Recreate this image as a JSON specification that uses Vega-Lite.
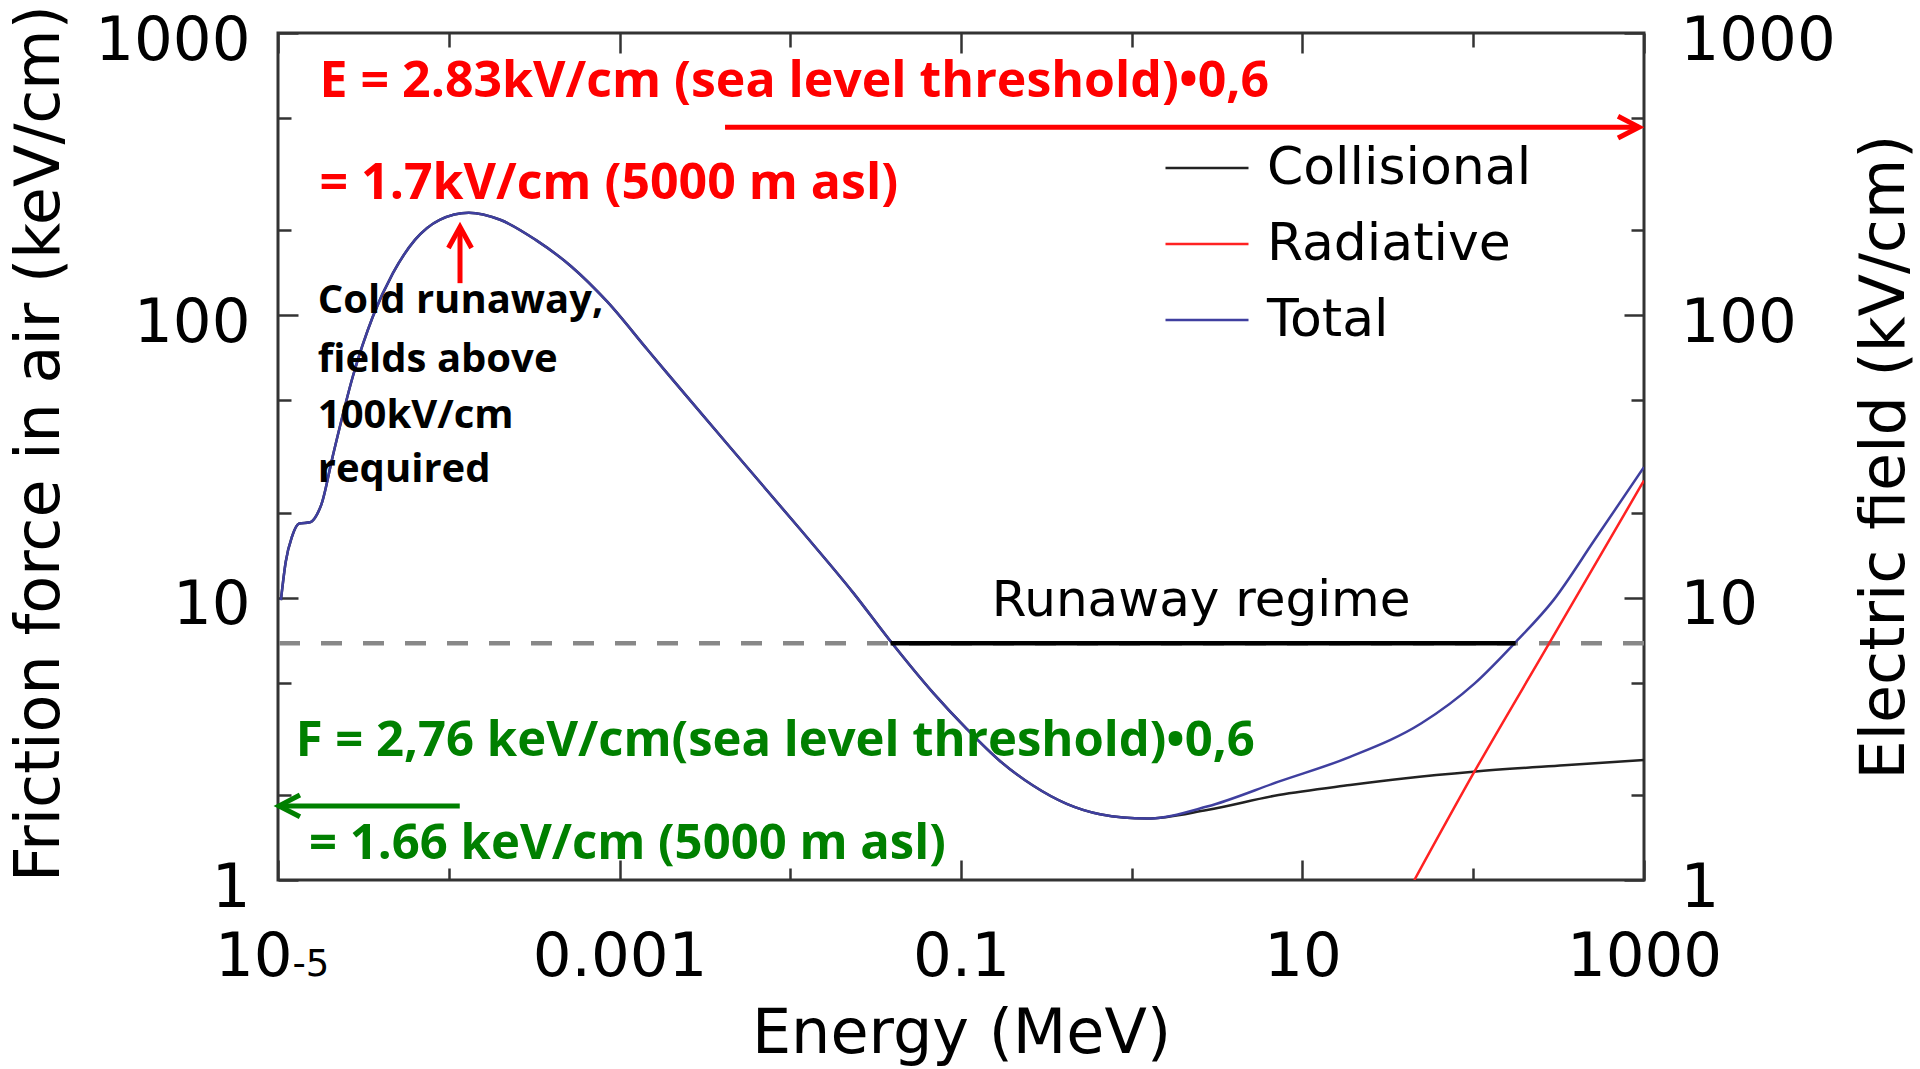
{
  "$schema": "https://vega.github.io/schema/vega-lite/v6.json",
  "width": 1366,
  "height": 847,
  "autosize": "none",
  "padding": {"left": 278, "top": 33, "right": 276, "bottom": 189},
  "background": "white",
  "config": {
    "view": {"stroke": "#333333", "strokeWidth": 3},
    "axis": {"grid": false, "labelColor": "#000000", "titleColor": "#000000", "tickColor": "#333333", "tickWidth": 2.5, "labelFlush": false, "labelOverlap": false, "labelBound": false, "labelFont": "DejaVu Sans", "titleFont": "DejaVu Sans", "titleFontWeight": "normal"},
    "legend": {"labelFont": "DejaVu Sans"}
  },
  "datasets": {
    "curves": [
      {"E": 1.04e-5, "F": 9.8, "series": "Collisional"},
      {"E": 1.11e-5, "F": 13.4, "series": "Collisional"},
      {"E": 1.21e-5, "F": 16.5, "series": "Collisional"},
      {"E": 1.33e-5, "F": 18.3, "series": "Collisional"},
      {"E": 1.54e-5, "F": 18.5, "series": "Collisional"},
      {"E": 1.69e-5, "F": 19.7, "series": "Collisional"},
      {"E": 1.80e-5, "F": 21.5, "series": "Collisional"},
      {"E": 2.09e-5, "F": 31.6, "series": "Collisional"},
      {"E": 2.74e-5, "F": 60.6, "series": "Collisional"},
      {"E": 3.59e-5, "F": 98.9, "series": "Collisional"},
      {"E": 4.71e-5, "F": 141, "series": "Collisional"},
      {"E": 6.34e-5, "F": 185, "series": "Collisional"},
      {"E": 8.85e-5, "F": 218, "series": "Collisional"},
      {"E": 1.31e-4, "F": 231, "series": "Collisional"},
      {"E": 2.0e-4, "F": 218, "series": "Collisional"},
      {"E": 3.23e-4, "F": 185, "series": "Collisional"},
      {"E": 5.22e-4, "F": 149, "series": "Collisional"},
      {"E": 8.45e-4, "F": 112, "series": "Collisional"},
      {"E": 1.46e-3, "F": 75.5, "series": "Collisional"},
      {"E": 1.89e-3, "F": 62.7, "series": "Collisional"},
      {"E": 2.5e-3, "F": 51.3, "series": "Collisional"},
      {"E": 4.65e-3, "F": 33.0, "series": "Collisional"},
      {"E": 0.0114, "F": 17.5, "series": "Collisional"},
      {"E": 0.0234, "F": 10.4, "series": "Collisional"},
      {"E": 0.0393, "F": 6.92, "series": "Collisional"},
      {"E": 0.0689, "F": 4.59, "series": "Collisional"},
      {"E": 0.108, "F": 3.43, "series": "Collisional"},
      {"E": 0.169, "F": 2.64, "series": "Collisional"},
      {"E": 0.264, "F": 2.16, "series": "Collisional"},
      {"E": 0.416, "F": 1.86, "series": "Collisional"},
      {"E": 0.652, "F": 1.71, "series": "Collisional"},
      {"E": 1.22, "F": 1.65, "series": "Collisional"},
      {"E": 2.76, "F": 1.77, "series": "Collisional"},
      {"E": 7.24, "F": 2.0, "series": "Collisional"},
      {"E": 19.0, "F": 2.17, "series": "Collisional"},
      {"E": 39.1, "F": 2.29, "series": "Collisional"},
      {"E": 100, "F": 2.42, "series": "Collisional"},
      {"E": 341, "F": 2.55, "series": "Collisional"},
      {"E": 1000, "F": 2.66, "series": "Collisional"},
      {"E": 45.2, "F": 1.0, "series": "Radiative"},
      {"E": 100, "F": 2.38, "series": "Radiative"},
      {"E": 275, "F": 6.8, "series": "Radiative"},
      {"E": 1000, "F": 26, "series": "Radiative"},
      {"E": 1.04e-5, "F": 9.8, "series": "Total"},
      {"E": 1.11e-5, "F": 13.4, "series": "Total"},
      {"E": 1.21e-5, "F": 16.5, "series": "Total"},
      {"E": 1.33e-5, "F": 18.3, "series": "Total"},
      {"E": 1.54e-5, "F": 18.5, "series": "Total"},
      {"E": 1.69e-5, "F": 19.7, "series": "Total"},
      {"E": 1.80e-5, "F": 21.5, "series": "Total"},
      {"E": 2.09e-5, "F": 31.6, "series": "Total"},
      {"E": 2.74e-5, "F": 60.6, "series": "Total"},
      {"E": 3.59e-5, "F": 98.9, "series": "Total"},
      {"E": 4.71e-5, "F": 141, "series": "Total"},
      {"E": 6.34e-5, "F": 185, "series": "Total"},
      {"E": 8.85e-5, "F": 218, "series": "Total"},
      {"E": 1.31e-4, "F": 231, "series": "Total"},
      {"E": 2.0e-4, "F": 218, "series": "Total"},
      {"E": 3.23e-4, "F": 185, "series": "Total"},
      {"E": 5.22e-4, "F": 149, "series": "Total"},
      {"E": 8.45e-4, "F": 112, "series": "Total"},
      {"E": 1.46e-3, "F": 75.5, "series": "Total"},
      {"E": 1.89e-3, "F": 62.7, "series": "Total"},
      {"E": 2.5e-3, "F": 51.3, "series": "Total"},
      {"E": 4.65e-3, "F": 33.0, "series": "Total"},
      {"E": 0.0114, "F": 17.5, "series": "Total"},
      {"E": 0.0234, "F": 10.4, "series": "Total"},
      {"E": 0.0393, "F": 6.92, "series": "Total"},
      {"E": 0.0689, "F": 4.59, "series": "Total"},
      {"E": 0.108, "F": 3.43, "series": "Total"},
      {"E": 0.169, "F": 2.64, "series": "Total"},
      {"E": 0.264, "F": 2.16, "series": "Total"},
      {"E": 0.416, "F": 1.86, "series": "Total"},
      {"E": 0.652, "F": 1.71, "series": "Total"},
      {"E": 1.22, "F": 1.65, "series": "Total"},
      {"E": 2.76, "F": 1.82, "series": "Total"},
      {"E": 7.24, "F": 2.23, "series": "Total"},
      {"E": 19.0, "F": 2.73, "series": "Total"},
      {"E": 49.7, "F": 3.59, "series": "Total"},
      {"E": 102, "F": 4.97, "series": "Total"},
      {"E": 178, "F": 6.98, "series": "Total"},
      {"E": 295, "F": 9.8, "series": "Total"},
      {"E": 513, "F": 16, "series": "Total"},
      {"E": 1000, "F": 29, "series": "Total"}
    ],
    "threshold": [{"F": 6.9}],
    "runaway": [{"E1": 0.0387, "E2": 177, "F": 6.9}],
    "runawayLabel": [{"label": "Runaway regime", "E": 2.55, "F": 8.6}],
    "redNotes": [
      {"label": "E = 2.83kV/cm (sea level threshold)•0,6", "E": 1.75e-5, "F": 593},
      {"label": "= 1.7kV/cm (5000 m asl)", "E": 1.75e-5, "F": 258}
    ],
    "greenNotes": [
      {"label": "F = 2,76 keV/cm(sea level threshold)•0,6", "E": 1.27e-5, "F": 2.75},
      {"label": "= 1.66 keV/cm (5000 m asl)", "E": 1.52e-5, "F": 1.186}
    ],
    "blackNotes": [
      {"label": "Cold runaway,", "E": 1.71e-5, "F": 101.9},
      {"label": "fields above", "E": 1.71e-5, "F": 63.0},
      {"label": "100kV/cm", "E": 1.71e-5, "F": 39.9},
      {"label": "required", "E": 1.71e-5, "F": 25.7}
    ],
    "redArrows": [
      {"E1": 0.00415, "E2": 935, "F1": 464, "F2": 464},
      {"E1": 1.164e-4, "E2": 1.164e-4, "F1": 130, "F2": 205.6}
    ],
    "redHeads": [
      {"E": 935, "F": 464, "dir": "right"},
      {"E": 1.164e-4, "F": 205.6, "dir": "up"}
    ],
    "greenArrows": [{"E1": 1.013e-5, "E2": 1.16e-4, "F1": 1.83, "F2": 1.83}],
    "greenHeads": [{"E": 1.013e-5, "F": 1.83, "dir": "left"}]
  },
  "layer": [
    {
      "data": {"name": "threshold"},
      "mark": {"type": "rule", "color": "#888888", "strokeWidth": 4.5, "strokeDash": [21, 21]},
      "encoding": {
        "y": {"field": "F", "type": "quantitative", "scale": {"type": "log", "domain": [1, 1000]},
          "axis": {"orient": "left", "values": [1, 2, 5, 10, 20, 50, 100, 200, 500, 1000], "labels": false, "domain": false, "title": null,
            "tickSize": {"condition": {"test": "datum.value == 1 || datum.value == 10 || datum.value == 100 || datum.value == 1000", "value": -20}, "value": -13}}}
      }
    },
    {
      "data": {"name": "curves"},
      "mark": {"type": "line", "strokeWidth": 2.5, "clip": true, "interpolate": "monotone"},
      "encoding": {
        "x": {"field": "E", "type": "quantitative", "scale": {"type": "log", "domain": [1e-5, 1000]},
          "axis": {"orient": "bottom", "values": [1e-5, 0.001, 0.1, 10, 1000],
            "labelExpr": "datum.value < 2e-5 ? '10' : datum.value < 0.01 ? '0.001' : datum.value < 1 ? '0.1' : datum.value < 100 ? '10' : '1000'",
            "labelAlign": {"condition": {"test": "datum.value < 2e-5", "value": "right"}, "value": "center"},
            "labelOffset": {"condition": {"test": "datum.value < 2e-5", "value": 14}, "value": 0},
            "ticks": false, "domain": false, "labelFontSize": 61, "labelBaseline": "alphabetic", "labelPadding": 95,
            "title": "Energy (MeV)", "titleFontSize": 62, "titlePadding": 16}},
        "y": {"field": "F", "type": "quantitative", "scale": {"type": "log", "domain": [1, 1000]},
          "axis": {"orient": "left", "values": [1, 10, 100, 1000], "labelExpr": "'' + datum.value", "ticks": false, "domain": false,
            "labelFontSize": 61, "labelBaseline": "alphabetic", "labelOffset": 26, "labelPadding": 28,
            "title": "Friction force in air (keV/cm)", "titleFontSize": 62, "titlePadding": 23, "titleY": 410}},
        "color": {"field": "series", "type": "nominal",
          "scale": {"domain": ["Collisional", "Radiative", "Total"], "range": ["#222222", "#ff2222", "#3f3f9f"]},
          "legend": {"orient": "none", "legendX": 886, "legendY": 109, "title": null, "symbolType": "stroke", "symbolSize": 6889, "symbolStrokeWidth": 2.5,
            "labelFontSize": 52, "labelColor": "#000000", "labelOffset": 17, "labelLimit": 500, "clipHeight": 52, "rowPadding": 24, "padding": 0}}
      }
    },
    {
      "data": {"name": "runaway"},
      "mark": {"type": "rule", "color": "#000000", "strokeWidth": 4.5},
      "encoding": {
        "x": {"field": "E1", "type": "quantitative", "scale": {"type": "log", "domain": [1e-5, 1000]},
          "axis": {"orient": "top", "values": [1e-5, 1e-4, 1e-3, 1e-2, 0.1, 1, 10, 100, 1000], "labels": false, "domain": false, "title": null,
            "tickSize": {"condition": {"test": "abs(round(log(datum.value) / LN10)) % 2 == 1", "value": -20}, "value": -14}}},
        "x2": {"field": "E2"},
        "y": {"field": "F", "type": "quantitative", "scale": {"type": "log", "domain": [1, 1000]},
          "axis": {"orient": "right", "values": [1, 2, 5, 10, 20, 50, 100, 200, 500, 1000], "labels": false, "domain": false, "title": null,
            "tickSize": {"condition": {"test": "datum.value == 1 || datum.value == 10 || datum.value == 100 || datum.value == 1000", "value": -20}, "value": -13}}}
      }
    },
    {
      "data": {"name": "runawayLabel"},
      "mark": {"type": "text", "font": "DejaVu Sans", "fontSize": 50, "color": "#000000", "align": "center", "baseline": "alphabetic"},
      "encoding": {
        "x": {"field": "E", "type": "quantitative", "scale": {"type": "log", "domain": [1e-5, 1000]},
          "axis": {"orient": "bottom", "values": [1e-5, 1e-4, 1e-3, 1e-2, 0.1, 1, 10, 100, 1000], "labels": false, "domain": false, "title": null,
            "tickSize": {"condition": {"test": "abs(round(log(datum.value) / LN10)) % 2 == 1", "value": -20}, "value": -12}}},
        "y": {"field": "F", "type": "quantitative", "scale": {"type": "log", "domain": [1, 1000]},
          "axis": {"orient": "right", "values": [1, 10, 100, 1000], "labelExpr": "'' + datum.value", "ticks": false, "domain": false,
            "labelFontSize": 61, "labelAlign": "left", "labelBaseline": "alphabetic", "labelOffset": 26, "labelPadding": 36,
            "title": "Electric field (kV/cm)", "titleFontSize": 62, "titleAngle": 270, "titleBaseline": "top", "titlePadding": 19}},
        "text": {"field": "label"}
      }
    },
    {
      "data": {"name": "redNotes"},
      "mark": {"type": "text", "font": "Open Sans", "fontWeight": "bold", "fontSize": 50, "color": "#ff0000", "align": "left", "baseline": "alphabetic"},
      "encoding": {
        "x": {"field": "E", "type": "quantitative", "scale": {"type": "log", "domain": [1e-5, 1000]},
          "axis": {"orient": "bottom", "values": [1e-5], "labelExpr": "'-5'", "ticks": false, "domain": false, "title": null,
            "labelFontSize": 37, "labelAlign": "left", "labelOffset": 14, "labelBaseline": "alphabetic", "labelPadding": 95}},
        "y": {"field": "F", "type": "quantitative", "scale": {"type": "log", "domain": [1, 1000]}, "axis": null},
        "text": {"field": "label"}
      }
    },
    {
      "data": {"name": "greenNotes"},
      "mark": {"type": "text", "font": "Open Sans", "fontWeight": "bold", "fontSize": 49, "color": "#008000", "align": "left", "baseline": "alphabetic"},
      "encoding": {
        "x": {"field": "E", "type": "quantitative", "scale": {"type": "log", "domain": [1e-5, 1000]}, "axis": null},
        "y": {"field": "F", "type": "quantitative", "scale": {"type": "log", "domain": [1, 1000]}, "axis": null},
        "text": {"field": "label"}
      }
    },
    {
      "data": {"name": "blackNotes"},
      "mark": {"type": "text", "font": "Open Sans", "fontWeight": "bold", "fontSize": 40, "color": "#000000", "align": "left", "baseline": "alphabetic"},
      "encoding": {
        "x": {"field": "E", "type": "quantitative", "scale": {"type": "log", "domain": [1e-5, 1000]}, "axis": null},
        "y": {"field": "F", "type": "quantitative", "scale": {"type": "log", "domain": [1, 1000]}, "axis": null},
        "text": {"field": "label"}
      }
    },
    {
      "data": {"name": "redArrows"},
      "mark": {"type": "rule", "color": "#ff0000", "strokeWidth": 5},
      "encoding": {
        "x": {"field": "E1", "type": "quantitative", "scale": {"type": "log", "domain": [1e-5, 1000]}, "axis": null},
        "x2": {"field": "E2"},
        "y": {"field": "F1", "type": "quantitative", "scale": {"type": "log", "domain": [1, 1000]}, "axis": null},
        "y2": {"field": "F2"}
      }
    },
    {
      "data": {"name": "redHeads"},
      "mark": {"type": "point", "filled": false, "stroke": "#ff0000", "strokeWidth": 5, "opacity": 1, "size": 1764},
      "encoding": {
        "x": {"field": "E", "type": "quantitative", "scale": {"type": "log", "domain": [1e-5, 1000]}, "axis": null},
        "y": {"field": "F", "type": "quantitative", "scale": {"type": "log", "domain": [1, 1000]}, "axis": null},
        "shape": {"field": "dir", "type": "nominal", "scale": {"domain": ["right", "up"], "range": ["M -1 -0.52 L 0 0 L -1 0.52", "M -0.55 1 L 0 0 L 0.55 1"]}, "legend": null}
      }
    },
    {
      "data": {"name": "greenArrows"},
      "mark": {"type": "rule", "color": "#008000", "strokeWidth": 5},
      "encoding": {
        "x": {"field": "E1", "type": "quantitative", "scale": {"type": "log", "domain": [1e-5, 1000]}, "axis": null},
        "x2": {"field": "E2"},
        "y": {"field": "F1", "type": "quantitative", "scale": {"type": "log", "domain": [1, 1000]}, "axis": null},
        "y2": {"field": "F2"}
      }
    },
    {
      "data": {"name": "greenHeads"},
      "mark": {"type": "point", "filled": false, "stroke": "#008000", "strokeWidth": 5, "opacity": 1, "size": 1764, "shape": "M 1 -0.52 L 0 0 L 1 0.52"},
      "encoding": {
        "x": {"field": "E", "type": "quantitative", "scale": {"type": "log", "domain": [1e-5, 1000]}, "axis": null},
        "y": {"field": "F", "type": "quantitative", "scale": {"type": "log", "domain": [1, 1000]}, "axis": null}
      }
    }
  ],
  "resolve": {"axis": {"x": "independent", "y": "independent"}}
}
